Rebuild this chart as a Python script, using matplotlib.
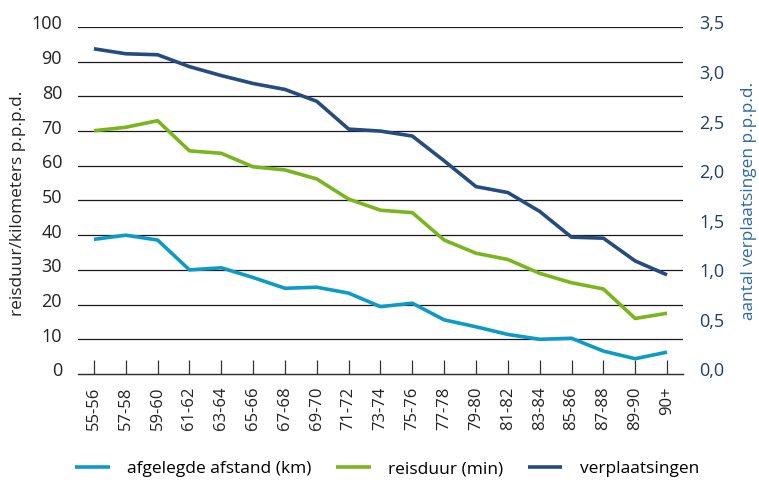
import matplotlib.pyplot as plt
from matplotlib import transforms

plt.rcParams["font.family"] = ["Open Sans", "DejaVu Sans"]

# Data

periods = [
    "55-56", "57-58", "59-60", "61-62", "63-64", "65-66", "67-68", "69-70",
    "71-72", "73-74", "75-76", "77-78", "79-80", "81-82", "83-84", "85-86",
    "87-88", "89-90", "90+",
]
afstand_km = [38.8, 40.0, 38.6, 30.0, 30.6, 27.8, 24.7, 25.0, 23.3, 19.4,
              20.4, 15.6, 13.6, 11.4, 10.0, 10.3, 6.6, 4.4, 6.3]
reisduur_min = [70.1, 71.1, 73.0, 64.3, 63.6, 59.7, 58.8, 56.2, 50.4, 47.2,
                46.5, 38.6, 34.8, 33.0, 29.0, 26.3, 24.5, 16.0, 17.5]
verplaatsingen = [3.28, 3.23, 3.22, 3.10, 3.01, 2.93, 2.87, 2.75, 2.47, 2.45,
                  2.40, 2.15, 1.89, 1.83, 1.64, 1.38, 1.37, 1.14, 1.00]

left_ticks = list(range(0, 101, 10))
right_ticks = [0.0, 0.5, 1.0, 1.5, 2.0, 2.5, 3.0, 3.5]

c_afstand = "#0d9bc6"
c_reisduur = "#7ab51d"
c_verpl = "#264b7f"
c_right_text = "#1f3f68"
c_right_label = "#2f6aa3"

# Figure

fig = plt.figure(figsize=(7.59, 4.82), dpi=100)
ax = fig.add_axes([0.1028, 0.2241, 0.797, 0.7199])
ax2 = ax.twinx()

x = list(range(len(periods)))

for yv in left_ticks[1:]:
    ax.axhline(yv, color="#1a1a1a", linewidth=0.9, zorder=0)

l1, = ax.plot(x, afstand_km, color=c_afstand, linewidth=2.6,
              label="afgelegde afstand (km)", solid_capstyle="butt")
l2, = ax.plot(x, reisduur_min, color=c_reisduur, linewidth=2.6,
              label="reisduur (min)", solid_capstyle="butt")
l3, = ax2.plot(x, verplaatsingen, color=c_verpl, linewidth=2.6,
               label="verplaatsingen", solid_capstyle="butt")

ax.set_xlim(-0.5, len(periods) - 0.5)
ax.set_ylim(0, 100)
ax2.set_ylim(0, 3.5)

ax.set_xticks(x)
ax.set_xticklabels(periods, rotation=90, fontsize=12, color="#222222")
ax.set_yticks(left_ticks)
ax.set_yticklabels([str(t) for t in left_ticks], fontsize=13, color="#222222")
ax2.set_yticks(right_ticks)
ax2.set_yticklabels([f"{t:.1f}".replace(".", ",") for t in right_ticks],
                    fontsize=13, color=c_right_text)

ax.tick_params(axis="x", direction="in", length=10, width=0.9,
               color="#333333", pad=9)
ax.tick_params(axis="y", length=0, pad=11.5)
ax2.tick_params(axis="y", length=0, pad=12)

# labels sit a little above their grid lines
up = transforms.ScaledTranslation(0, 3.3 / 72, fig.dpi_scale_trans)
for lab in ax.get_yticklabels() + ax2.get_yticklabels():
    lab.set_transform(lab.get_transform() + up)

for a in (ax, ax2):
    for side in ("left", "right", "top"):
        a.spines[side].set_visible(False)
    a.spines["bottom"].set_color("#333333")
    a.spines["bottom"].set_linewidth(0.9)

fig.text(0.024, 0.578, "reisduur/kilometers p.p.p.d.", rotation=90,
         ha="center", va="center", fontsize=12.4, color="#222222")
fig.text(0.987, 0.583, "aantal verplaatsingen p.p.p.d.", rotation=90,
         ha="center", va="center", fontsize=12.4, color=c_right_label)

fig.legend(handles=[l1, l2, l3], loc="center", bbox_to_anchor=(0.51, 0.027),
           ncol=3, frameon=False, fontsize=12.5, handlelength=2.0,
           handletextpad=1.0, columnspacing=1.4)

fig.savefig("out.png", dpi=100)
